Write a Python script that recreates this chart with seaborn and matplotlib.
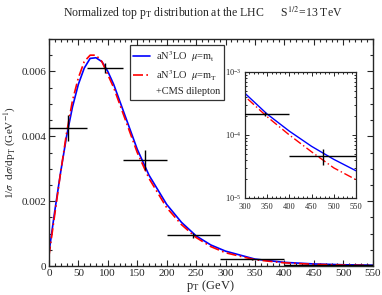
"""Normalized top pT distribution, aN3LO vs CMS dilepton data."""

import matplotlib
matplotlib.use('Agg')
import matplotlib.pyplot as plt
import matplotlib.ticker as mticker
import pandas as pd
import seaborn as sns

# theory curves
pt = [0, 10, 20, 30, 40, 50, 60, 70, 80, 90, 100, 110, 120, 130, 140, 150,
      160, 170, 180, 190, 200, 225, 250, 275, 300, 350, 400, 450, 500, 550]
blue_mt = [0.0004, 0.0017, 0.0029, 0.0040, 0.0049, 0.0056, 0.0061, 0.0064,
           0.00642, 0.0063, 0.0060, 0.0056, 0.0051, 0.0046, 0.0041, 0.0036,
           0.0032, 0.0028, 0.0025, 0.0022, 0.0019, 0.00135, 0.00093, 0.00065,
           0.00046, 0.000215, 0.000115, 0.000066, 0.000041, 0.000027]
red_mT = [0.0003, 0.0016, 0.0029, 0.0041, 0.0051, 0.0058, 0.0063, 0.0065,
          0.0065, 0.0063, 0.0059, 0.0055, 0.0050, 0.0045, 0.0040, 0.0035,
          0.0031, 0.0027, 0.0024, 0.0021, 0.0018, 0.00128, 0.00088, 0.00060,
          0.00041, 0.000195, 0.000100, 0.000054, 0.000030, 0.0000195]

# CMS dilepton data
cms_x = [32.5, 95, 162.5, 245, 345, 475]
cms_lo = [0, 65, 125, 200, 290, 400]
cms_hi = [65, 125, 200, 290, 400, 550]
cms_y = [0.00425, 0.0061, 0.00326, 0.00095, 0.000215, 0.000046]
cms_err = [0.00041, 0.00015, 0.00031, 0.00007, 0.000018, 0.000013]

curves = pd.DataFrame({
    "pt": pt * 2,
    "val": blue_mt + red_mT,
    "scale": ["mt"] * len(pt) + ["mT"] * len(pt),
})

sns.set_theme(style="ticks")
plt.rcParams['font.family'] = ['Liberation Serif', 'DejaVu Serif']
plt.rcParams['mathtext.fontset'] = 'stix'

fig = plt.figure(figsize=(3.82, 2.95), dpi=100)
ax = fig.add_axes([0.128, 0.098, 0.848, 0.770])

palette = {"mt": "#0000ff", "mT": "#ff0000"}
styles = {"mt": "", "mT": (6, 2, 1, 2)}


def draw(axis, lw):
    sns.lineplot(data=curves, x="pt", y="val", hue="scale", style="scale",
                 palette=palette, dashes=styles, linewidth=lw, ax=axis,
                 legend=False, hue_order=["mt", "mT"], style_order=["mt", "mT"])
    xerr = [[c - l for c, l in zip(cms_x, cms_lo)],
            [h - c for c, h in zip(cms_x, cms_hi)]]
    axis.errorbar(cms_x, cms_y, xerr=xerr, yerr=cms_err, fmt='none',
                  ecolor='black', elinewidth=1.0, capsize=0, zorder=5)
    axis.set_xlabel("")
    axis.set_ylabel("")


draw(ax, 1.2)
ax.set_xlim(0, 550)
ax.set_ylim(0, 0.007)
ax.xaxis.set_major_locator(mticker.MultipleLocator(50))
ax.xaxis.set_minor_locator(mticker.MultipleLocator(10))
ax.yaxis.set_major_locator(mticker.MultipleLocator(0.002))
ax.yaxis.set_minor_locator(mticker.MultipleLocator(0.0005))
ax.yaxis.set_major_formatter(mticker.FuncFormatter(
    lambda v, _: "0" if v == 0 else f"{v:.3f}"))
ax.tick_params(which='both', direction='in', top=True, right=True,
               labelsize=8, pad=2, width=0.8)
ax.tick_params(which='major', length=4)
ax.tick_params(which='minor', length=2)
for s in ax.spines.values():
    s.set_linewidth(1.0)
ax.set_xlabel(r"p$_\mathrm{T}$ (GeV)", fontsize=9, labelpad=0)
ax.set_ylabel(r"1/$\sigma$  d$\sigma$/dp$_\mathrm{T}$ (GeV$^{-1}$)",
              fontsize=8, labelpad=2)

fig.text(0.53, 0.955,
         r"Normalized top p$_\mathrm{T}$ distribution at the LHC      "
         r"S$^{1/2}$=13 TeV", ha='center', va='center', fontsize=8.5)

# legend
handles = [
    plt.Line2D([], [], color="#0000ff", lw=1.2),
    plt.Line2D([], [], color="#ff0000", lw=1.2, dashes=(6, 2, 1, 2)),
    plt.Line2D([], [], color="none"),
]
labels = [r"aN$^3$LO  $\mu$=m$_\mathrm{t}$",
          r"aN$^3$LO  $\mu$=m$_\mathrm{T}$", "+CMS dilepton"]
leg = ax.legend(handles, labels, loc='upper left',
                bbox_to_anchor=(0.233, 0.995), fontsize=7.5, frameon=True,
                fancybox=False, edgecolor='black', handlelength=1.6,
                handletextpad=0.6, borderpad=0.35, labelspacing=0.4)
leg.get_frame().set_linewidth(0.9)

# inset, log scale
ins = fig.add_axes([0.641, 0.329, 0.291, 0.427])
draw(ins, 1.0)
ins.set_yscale('log')
ins.set_xlim(300, 550)
ins.set_ylim(1e-5, 1e-3)
ins.xaxis.set_major_locator(mticker.MultipleLocator(50))
ins.xaxis.set_minor_locator(mticker.MultipleLocator(10))
ins.yaxis.set_major_locator(mticker.LogLocator(base=10, numticks=5))
ins.yaxis.set_minor_locator(mticker.LogLocator(base=10, subs=range(2, 10),
                                               numticks=10))
ins.yaxis.set_minor_formatter(mticker.NullFormatter())
ins.tick_params(which='both', direction='in', top=True, right=True,
                labelsize=6, width=0.7)
ins.tick_params(axis='x', which='major', pad=3.5)
ins.tick_params(axis='y', which='major', pad=2.5)
ins.tick_params(which='major', length=3)
ins.tick_params(which='minor', length=1.5)
for s in ins.spines.values():
    s.set_linewidth(0.9)

fig.savefig("out.png", dpi=100)
plt.close(fig)
